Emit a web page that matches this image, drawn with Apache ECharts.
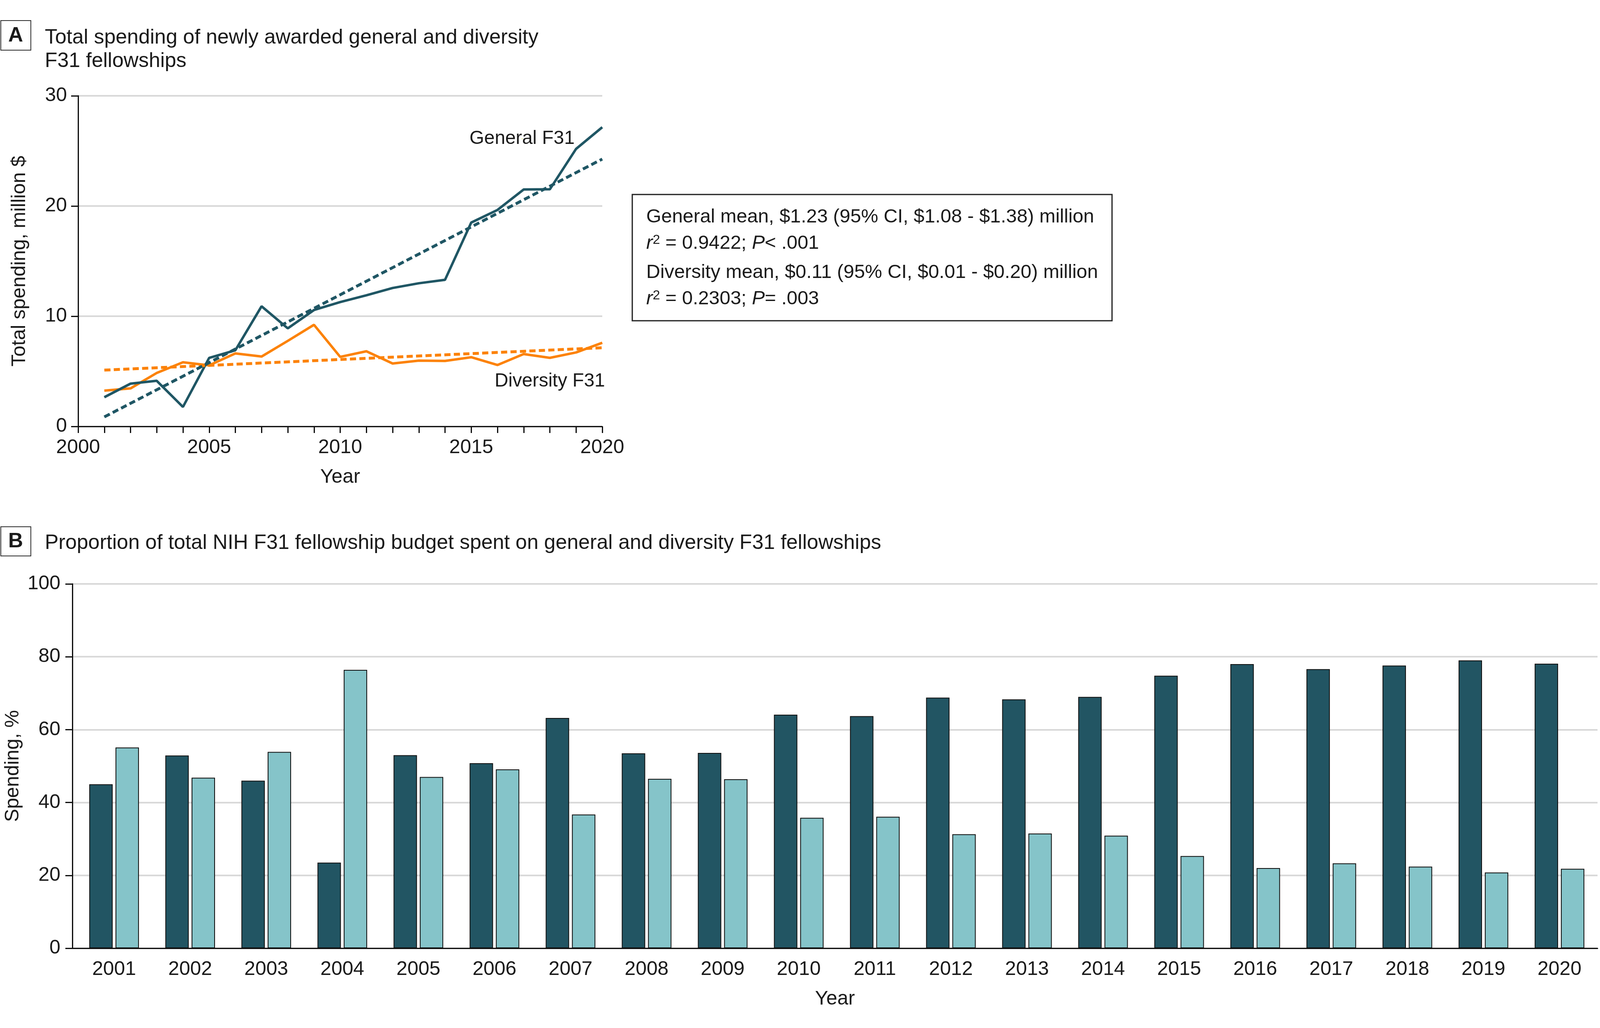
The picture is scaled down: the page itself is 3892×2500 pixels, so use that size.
<!DOCTYPE html>
<html>
<head>
<meta charset="utf-8">
<script src="https://cdn.jsdelivr.net/npm/echarts@6/dist/echarts.min.js"></script>
<style>
  html, body { margin: 0; padding: 0; background: #fff; }
  #chart { width: 3892px; height: 2500px; }
</style>
</head>
<body>
<div id="chart"></div>
<script>
// panel A: total spending, million $
var yearsA = [2001, 2002, 2003, 2004, 2005, 2006, 2007, 2008, 2009, 2010,
              2011, 2012, 2013, 2014, 2015, 2016, 2017, 2018, 2019, 2020];
var generalSpend = [2.65, 3.88, 4.14, 1.77, 6.22, 6.91, 10.9, 8.9, 10.56, 11.28,
                    11.9, 12.56, 12.99, 13.3, 18.5, 19.64, 21.5, 21.52, 25.18, 27.15];
var diversitySpend = [3.25, 3.45, 4.85, 5.82, 5.54, 6.62, 6.34, 7.76, 9.22, 6.31,
                      6.82, 5.71, 5.97, 5.94, 6.28, 5.57, 6.57, 6.22, 6.71, 7.59];
// fitted trend lines, end points (year, value)
var generalTrend = [[2001, 0.86], [2020, 24.26]];
var diversityTrend = [[2001, 5.11], [2020, 7.14]];

// panel B: share of F31 budget, %
var yearsB = ['2001', '2002', '2003', '2004', '2005', '2006', '2007', '2008', '2009', '2010',
              '2011', '2012', '2013', '2014', '2015', '2016', '2017', '2018', '2019', '2020'];
var generalPct = [45.0, 52.9, 46.0, 23.5, 53.0, 50.8, 63.2, 53.5, 53.6, 64.1,
                  63.7, 68.8, 68.3, 69.0, 74.8, 78.0, 76.6, 77.6, 79.0, 78.1];
var diversityPct = [55.1, 46.8, 53.9, 76.4, 47.0, 49.1, 36.7, 46.5, 46.4, 35.8,
                    36.1, 31.3, 31.5, 30.9, 25.3, 22.0, 23.3, 22.4, 20.8, 21.8];

var annotation = [
  'General mean, $1.23 (95% CI, $1.08 - $1.38) million',
  '{i|r}{sup|2} = 0.9422; {i|P}< .001',
  'Diversity mean, $0.11 (95% CI, $0.01 - $0.20) million',
  '{i|r}{sup|2} = 0.2303; {i|P}= .003'
];

var FONT = 'Liberation Sans';
var DARK = '#1F5664';
var ORANGE = '#FC8208';
var BAR_DARK = '#225563';
var BAR_LIGHT = '#85C4C9';
var GRID_GRAY = '#d9d9d9';
var TXT = '#1a1a1a';

var chart = echarts.init(document.getElementById('chart'));

var richSup = {
  i: { fontStyle: 'italic', fontSize: 47, fontFamily: FONT, fill: TXT },
  sup: { fontSize: 32, fontFamily: FONT, fill: TXT, verticalAlign: 'top', padding: [0, 0, 16, 0] }
};
var annotTops = [528, 592, 663, 727];

var graphics = [
  { type: 'rect', shape: { x: 2, y: 50, width: 73, height: 72 },
    style: { fill: '#fff', stroke: '#333', lineWidth: 2 } },
  { type: 'text', x: 38, y: 87,
    style: { text: 'A', font: 'bold 50px ' + FONT, fill: TXT, align: 'center', verticalAlign: 'middle' } },
  { type: 'rect', shape: { x: 2, y: 1281, width: 73, height: 71 },
    style: { fill: '#fff', stroke: '#333', lineWidth: 2 } },
  { type: 'text', x: 38, y: 1317,
    style: { text: 'B', font: 'bold 50px ' + FONT, fill: TXT, align: 'center', verticalAlign: 'middle' } },
  { type: 'rect', shape: { x: 1538, y: 473, width: 1167, height: 307 },
    style: { fill: '#fff', stroke: '#222', lineWidth: 3 } }
];
annotation.forEach(function (line, k) {
  graphics.push({
    type: 'text', x: 1572, y: annotTops[k],
    style: { text: line, rich: richSup, fontSize: 47, fontFamily: FONT, fill: TXT,
             verticalAlign: 'middle' }
  });
});

var yearFmt = function (v) { return String(Math.round(v)); };

var option = {
  backgroundColor: '#fff',
  animation: false,
  textStyle: { fontFamily: FONT },
  title: [
    { text: 'Total spending of newly awarded general and diversity\nF31 fellowships',
      left: 104, top: 59,
      textStyle: { fontFamily: FONT, fontWeight: 'normal', fontSize: 50, lineHeight: 57, color: TXT } },
    { text: 'Proportion of total NIH F31 fellowship budget spent on general and diversity F31 fellowships',
      left: 104, top: 1288,
      textStyle: { fontFamily: FONT, fontWeight: 'normal', fontSize: 50, lineHeight: 57, color: TXT } }
  ],
  graphic: graphics,
  grid: [
    // panel A
    { left: 190, top: 233, width: 1275, height: 804 },
    // panel B frame (axis lines, gridlines)
    { left: 166, top: 1420, width: 3720, height: 886 },
    // panel B bars (categories start a little right of the y axis)
    { left: 185, top: 1420, width: 3701, height: 886 }
  ],
  xAxis: [
    { type: 'value', gridIndex: 0, min: 2000, max: 2020, interval: 5,
      name: 'Year', nameLocation: 'middle', nameGap: 100,
      nameTextStyle: { fontSize: 48, color: TXT, fontFamily: FONT },
      axisLine: { lineStyle: { color: '#111', width: 3 } },
      axisTick: { show: true, length: 16, lineStyle: { color: '#111', width: 3 } },
      minorTick: { show: true, splitNumber: 5, length: 16, lineStyle: { color: '#111', width: 3 } },
      splitLine: { show: false },
      axisLabel: { fontSize: 48, color: TXT, margin: 28, fontFamily: FONT, formatter: yearFmt } },
    { type: 'value', gridIndex: 1, min: 0, max: 1,
      name: 'Year', nameLocation: 'middle', nameGap: 100,
      nameTextStyle: { fontSize: 48, color: TXT, fontFamily: FONT },
      axisLine: { onZero: false, lineStyle: { color: '#111', width: 3 } },
      axisTick: { show: false }, axisLabel: { show: false }, splitLine: { show: false } },
    { type: 'category', gridIndex: 2, data: yearsB,
      axisLine: { show: false }, axisTick: { show: false }, splitLine: { show: false },
      axisLabel: { fontSize: 48, color: TXT, margin: 28, fontFamily: FONT } }
  ],
  yAxis: [
    { type: 'value', gridIndex: 0, min: 0, max: 30, interval: 10,
      name: 'Total spending, million $', nameLocation: 'middle', nameGap: 118,
      nameTextStyle: { fontSize: 48, color: TXT, fontFamily: FONT },
      axisLine: { show: true, onZero: false, lineStyle: { color: '#111', width: 3 } },
      axisTick: { show: true, length: 17, lineStyle: { color: '#111', width: 3 } },
      splitLine: { show: true, lineStyle: { color: GRID_GRAY, width: 4 } },
      axisLabel: { fontSize: 48, color: TXT, margin: 27, fontFamily: FONT } },
    { type: 'value', gridIndex: 1, min: 0, max: 100, interval: 20,
      name: 'Spending, %', nameLocation: 'middle', nameGap: 112,
      nameTextStyle: { fontSize: 48, color: TXT, fontFamily: FONT },
      axisLine: { show: true, onZero: false, lineStyle: { color: '#111', width: 3 } },
      axisTick: { show: true, length: 17, lineStyle: { color: '#111', width: 3 } },
      splitLine: { show: true, lineStyle: { color: GRID_GRAY, width: 4 } },
      axisLabel: { fontSize: 48, color: TXT, margin: 29, fontFamily: FONT } },
    { type: 'value', gridIndex: 2, min: 0, max: 100, interval: 20,
      axisLine: { show: false }, axisTick: { show: false },
      axisLabel: { show: false }, splitLine: { show: false } }
  ],
  series: [
    { name: 'Diversity F31', type: 'line', xAxisIndex: 0, yAxisIndex: 0,
      data: yearsA.map(function (y, i) { return [y, diversitySpend[i]]; }),
      showSymbol: false, lineStyle: { color: ORANGE, width: 6 },
      markPoint: { symbol: 'circle', symbolSize: 0,
        label: { show: true, position: 'inside', formatter: 'Diversity F31',
                 fontSize: 46, color: TXT, fontFamily: FONT },
        data: [{ coord: [2018, 4.1] }] } },
    { name: 'General F31', type: 'line', xAxisIndex: 0, yAxisIndex: 0,
      data: yearsA.map(function (y, i) { return [y, generalSpend[i]]; }),
      showSymbol: false, lineStyle: { color: DARK, width: 6 },
      markPoint: { symbol: 'circle', symbolSize: 0,
        label: { show: true, position: 'inside', formatter: 'General F31',
                 fontSize: 46, color: TXT, fontFamily: FONT },
        data: [{ coord: [2016.94, 26.1] }] } },
    { name: 'Diversity trend', type: 'line', xAxisIndex: 0, yAxisIndex: 0,
      data: diversityTrend, showSymbol: false,
      lineStyle: { color: ORANGE, width: 7, type: [15, 8] } },
    { name: 'General trend', type: 'line', xAxisIndex: 0, yAxisIndex: 0,
      data: generalTrend, showSymbol: false,
      lineStyle: { color: DARK, width: 7, type: [15, 8] } },
    { name: 'General %', type: 'bar', xAxisIndex: 2, yAxisIndex: 2,
      data: generalPct, barWidth: 57, barGap: '12%',
      itemStyle: { color: BAR_DARK, borderColor: '#111', borderWidth: 2 } },
    { name: 'Diversity %', type: 'bar', xAxisIndex: 2, yAxisIndex: 2,
      data: diversityPct, barWidth: 57, barGap: '12%',
      itemStyle: { color: BAR_LIGHT, borderColor: '#111', borderWidth: 2 } }
  ]
};

chart.setOption(option);
</script>
</body>
</html>
